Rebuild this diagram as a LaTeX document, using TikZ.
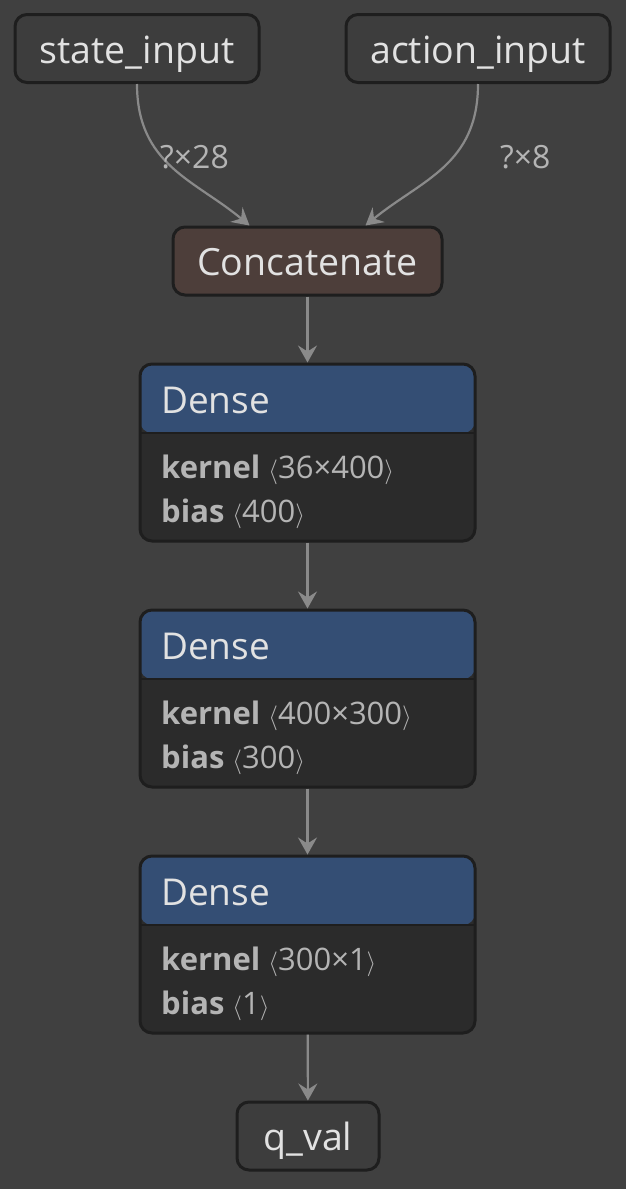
\documentclass[tikz,border=0pt]{standalone}
\usepackage{fontspec}
\setmainfont{Open Sans}
\usetikzlibrary{arrows.meta}
\definecolor{canvas}{HTML}{404040}
\definecolor{rim}{HTML}{1E1E1E}
\definecolor{plainfill}{HTML}{3D3D3D}
\definecolor{concatfill}{HTML}{4D3E3A}
\definecolor{densehead}{HTML}{344E74}
\definecolor{densebody}{HTML}{2B2B2B}
\definecolor{wire}{HTML}{8A8A8A}
\definecolor{bright}{HTML}{E2E2E2}
\definecolor{dim}{HTML}{B4B4B4}
\tikzstyle{Tensor}=[minimum height=68pt, inner sep=0pt, fill=plainfill, line width=3pt, draw=rim, rounded corners=12pt, text=bright, font=\fontsize{37.5}{44}\selectfont, text height=37pt, text depth=8pt]
\tikzstyle{Layer}=[style=Tensor, fill=concatfill]
\tikzstyle{Dense}=[minimum width=335pt, minimum height=177pt, inner sep=0pt, fill=densebody, line width=3pt, draw=rim, rounded corners=12pt,
  path picture={
    \fill [densehead] (path picture bounding box.north west) rectangle ([yshift=-69pt]path picture bounding box.north east);
    \draw [rim, line width=2.5pt] ([yshift=-69pt]path picture bounding box.north west) -- ([yshift=-69pt]path picture bounding box.north east);
  }]
\tikzstyle{Title}=[anchor=base west, inner sep=0pt, text=bright, font=\fontsize{37}{44}\selectfont]
\tikzstyle{Attr}=[anchor=base west, inner sep=0pt, text=dim, font=\fontsize{31}{37}\selectfont]
\tikzstyle{Shape}=[anchor=base west, inner sep=0pt, text=dim, font=\fontsize{32}{38}\selectfont]
\tikzstyle{arrow}=[line width=2.2pt, draw=wire, -{Stealth[length=17pt, width=19pt, inset=6pt]}]

\begin{document}
\begin{tikzpicture}[x=1pt, y=-1pt]
	\fill [canvas] (0,0) rectangle (626,1189);
	\useasboundingbox (0,0) rectangle (626,1189);
	% inputs
	\node [style=Tensor, minimum width=244pt] (state_input) at (137, 48.5) {state\_input};
	\node [style=Tensor, minimum width=264pt] (action_input) at (478, 48.5) {action\_input};
	\node [style=Layer, minimum width=269pt] (concat) at (307.5, 261) {Concatenate};
	% dense layers
	\foreach \n/\top/\kshape/\bshape in {1/363/36×400/400, 2/609/400×300/300, 3/855/300×1/1} {
		\node [style=Dense] (dense\n) at (307.5, \top+89.5) {};
		\node [style=Title] (dense\n_name) at (161, \top+50) {Dense};
		\node [style=Attr] (dense\n_kernel) at (161, \top+115) {\textbf{kernel} $\big\langle$\kshape$\big\rangle$};
		\node [style=Attr] (dense\n_bias) at (161, \top+159) {\textbf{bias} $\big\langle$\bshape$\big\rangle$};
	}
	% output
	\node [style=Tensor, minimum width=142pt] (q_val) at (308, 1136) {q\_val};
	% edges
	\draw [style=arrow] (state_input.south) .. controls (137,165) and (195,180) .. ([xshift=-58pt]concat.north);
	\draw [style=arrow] (action_input.south) .. controls (478,165) and (421,180) .. ([xshift=58pt]concat.north);
	\node [style=Shape] (state_shape) at (160, 168) {?×28};
	\node [style=Shape] (action_shape) at (500, 168) {?×8};
	\draw [style=arrow] (concat) to (dense1);
	\draw [style=arrow] (dense1) to (dense2);
	\draw [style=arrow] (dense2) to (dense3);
	\draw [style=arrow] (dense3) to (q_val);
\end{tikzpicture}
\end{document}
